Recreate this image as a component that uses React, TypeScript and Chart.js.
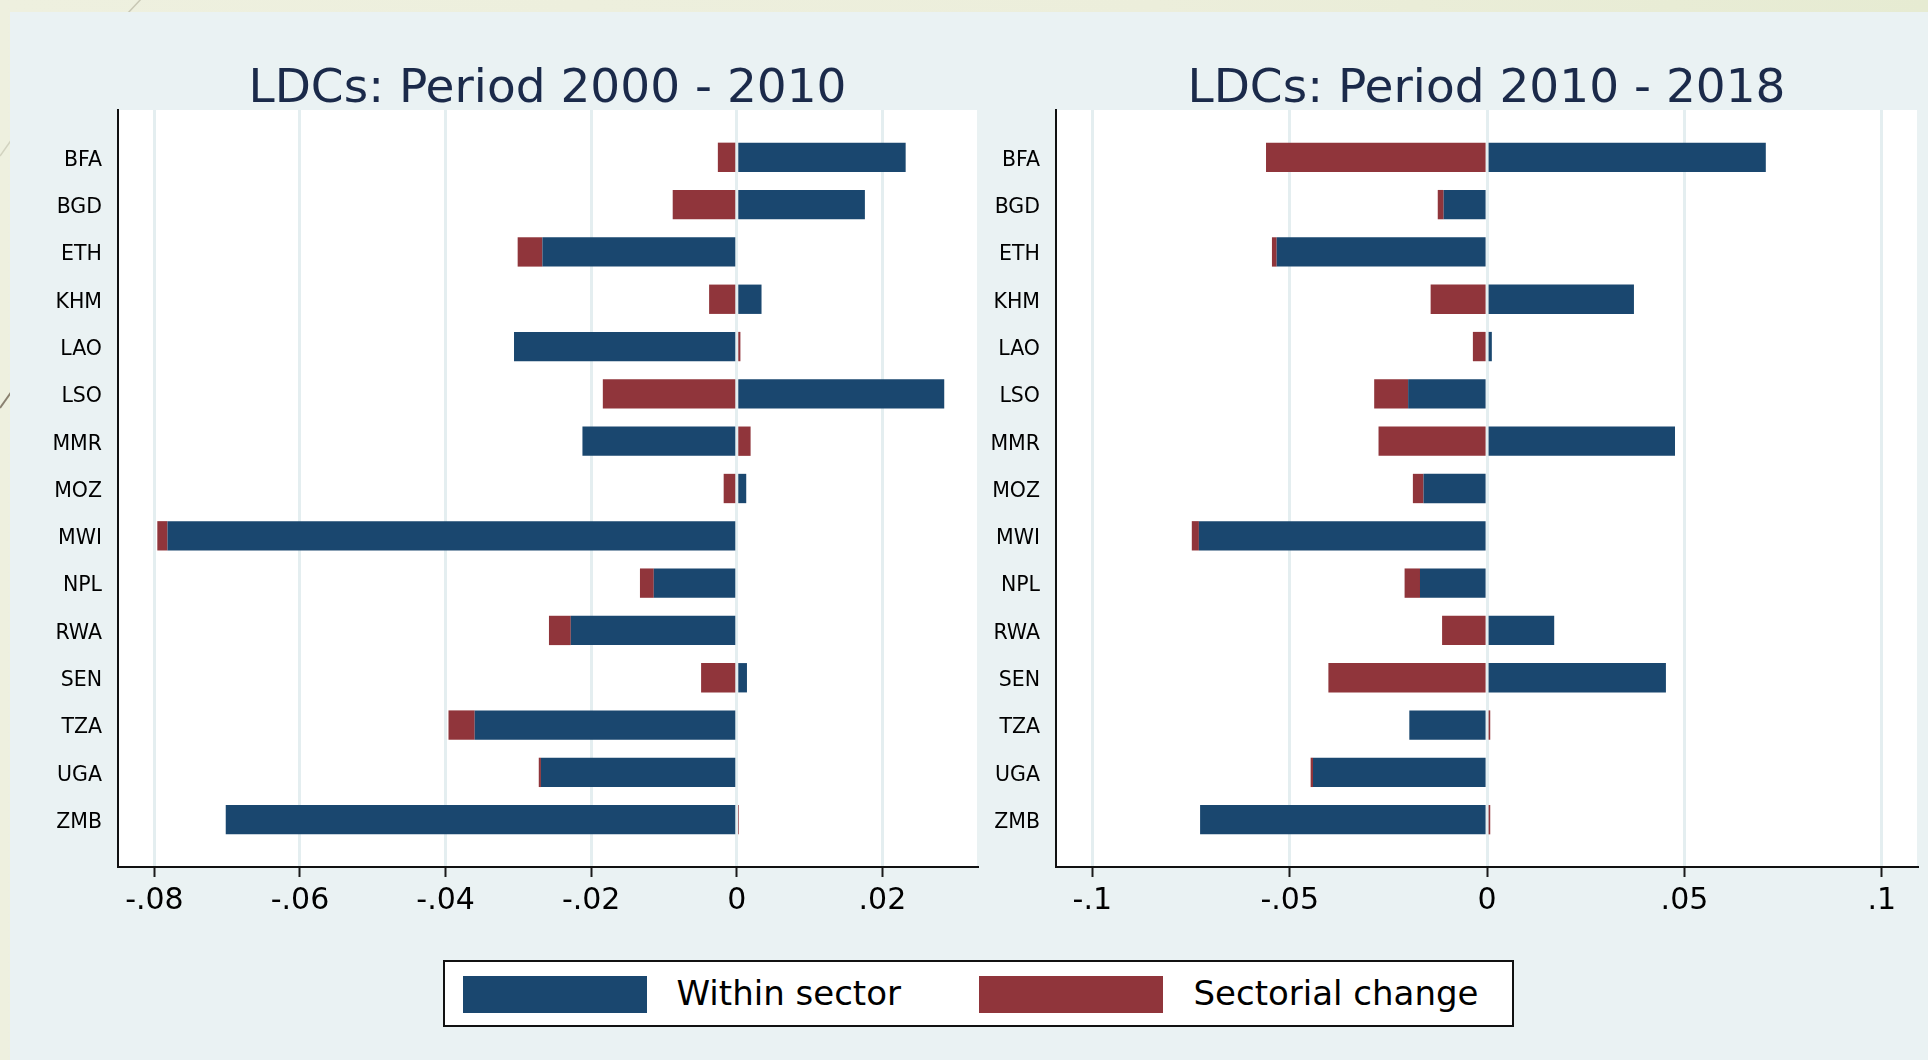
import React, { useEffect, useRef } from "react";
import { Chart, registerables } from "chart.js";

Chart.register(...registerables);

// ---------- data ----------
const categories = ["BFA", "BGD", "ETH", "KHM", "LAO", "LSO", "MMR", "MOZ", "MWI", "NPL", "RWA", "SEN", "TZA", "UGA", "ZMB"];

const within2000 = [0.0232, 0.0176, -0.0267, 0.0034, -0.0306, 0.0285, -0.0212, 0.0013, -0.0782, -0.0114, -0.0228, 0.0014, -0.036, -0.0269, -0.0702];
const sectoral2000 = [-0.0026, -0.0088, -0.0034, -0.0038, 0.0005, -0.0184, 0.0019, -0.0018, -0.0014, -0.0019, -0.003, -0.0049, -0.0036, -0.0003, 0.0003];

const within2010 = [0.0706, -0.011, -0.0533, 0.0372, 0.0012, -0.02, 0.0476, -0.0161, -0.073, -0.017, 0.017, 0.0453, -0.0197, -0.0441, -0.0727];
const sectoral2010 = [-0.056, -0.0015, -0.0012, -0.0143, -0.0036, -0.0086, -0.0275, -0.0027, -0.0018, -0.0039, -0.0114, -0.0402, 0.0008, -0.0006, 0.0008];

const ticks2000 = [-0.08, -0.06, -0.04, -0.02, 0, 0.02];
const tickLabels2000 = ["-.08", "-.06", "-.04", "-.02", "0", ".02"];
const ticks2010 = [-0.1, -0.05, 0, 0.05, 0.1];
const tickLabels2010 = ["-.1", "-.05", "0", ".05", ".1"];

const seriesNames = ["Within sector", "Sectorial change"];
const panelTitles = ["LDCs: Period 2000 - 2010", "LDCs: Period 2010 - 2018"];

// ---------- styles ----------
const BLUE = "#1a476f";
const RED = "#90353b";
const FONT = "DejaVu Sans";

Chart.defaults.font.family = FONT;

const whiteBg = {
  id: "whiteBg",
  beforeDraw(chart: any) {
    const a = chart.chartArea;
    const ctx = chart.ctx;
    ctx.save();
    ctx.fillStyle = "#ffffff";
    ctx.fillRect(a.left, a.top, a.right - a.left, a.bottom - a.top);
    ctx.restore();
  },
};

type PanelProps = {
  title: string;
  within: number[];
  sectoral: number[];
  ticks: number[];
  tickLabels: string[];
  xMin: number;
  xMax: number;
  yAxisWidth: number;
  padRight: number;
  left: number;
  width: number;
};

function Panel(p: PanelProps) {
  const ref = useRef<HTMLCanvasElement | null>(null);
  useEffect(() => {
    if (!ref.current) return;
    const labels = ["", ...categories, ""];
    const pad = (arr: number[]) => [null, ...arr, null];
    const chart = new Chart(ref.current, {
      type: "bar",
      data: {
        labels,
        datasets: [
          {
            label: seriesNames[0],
            data: pad(p.within) as any,
            backgroundColor: BLUE,
            borderWidth: 0,
            barPercentage: 0.62,
            categoryPercentage: 1,
          },
          {
            label: seriesNames[1],
            data: pad(p.sectoral) as any,
            backgroundColor: RED,
            borderWidth: 0,
            barPercentage: 0.62,
            categoryPercentage: 1,
          },
        ],
      },
      options: {
        indexAxis: "y",
        responsive: false,
        animation: false,
        layout: { padding: { left: 0, right: p.padRight, top: 0, bottom: 0 } },
        plugins: {
          legend: { display: false },
          tooltip: { enabled: false },
          title: {
            display: true,
            text: p.title,
            fullSize: false,
            color: "#1b2a4a",
            font: { family: FONT, size: 47, lineHeight: 0.8, weight: "normal" },
            padding: { top: 71, bottom: 1.4 },
          },
        },
        scales: {
          x: {
            type: "linear",
            min: p.xMin,
            max: p.xMax,
            stacked: true,
            afterBuildTicks: (s: any) => {
              s.ticks = p.ticks.map((v) => ({ value: v }));
            },
            afterFit: (s: any) => {
              s.height = 73;
            },
            ticks: {
              callback: (v: any) => {
                const i = p.ticks.indexOf(v);
                return i >= 0 ? p.tickLabels[i] : "";
              },
              color: "#000",
              font: { family: FONT, size: 30 },
              padding: 6,
              maxRotation: 0,
              autoSkip: false,
            },
            grid: {
              color: "#e4eef0",
              lineWidth: 3,
              tickColor: "#1a1a1a",
              tickWidth: 2,
              tickLength: 10,
              drawOnChartArea: true,
            },
            border: { display: true, color: "#111", width: 2 },
          },
          y: {
            type: "category",
            stacked: true,
            offset: false,
            afterFit: (s: any) => {
              s.width = p.yAxisWidth;
            },
            ticks: {
              color: "#000",
              font: { family: FONT, size: 20.5 },
              padding: 16,
              labelOffset: 3,
              autoSkip: false,
            },
            grid: { display: false, drawTicks: false },
            border: { display: true, color: "#111", width: 2 },
          },
        },
      } as any,
      plugins: [whiteBg],
    });
    return () => chart.destroy();
  }, []);
  return (
    <canvas
      ref={ref}
      width={p.width}
      height={940}
      style={{ position: "absolute", left: p.left, top: 0, width: p.width, height: 940 }}
    />
  );
}

export default function App() {
  const legendColors = [BLUE, RED];
  const swatchLeft = [18, 533.6];
  const textLeft = [231.5, 748.5];
  return (
    <div
      style={{
        position: "fixed",
        left: 0,
        top: 0,
        width: 1928,
        height: 1060,
        overflow: "hidden",
        background: "linear-gradient(90deg, #eef0df 0%, #eceedb 60%, #e6ebd2 100%)",
      }}
    >
      <svg width={1928} height={1060} style={{ position: "absolute", left: 0, top: 0 }}>
        <line x1={142} y1={-2} x2={112} y2={30} stroke="#c8c7b4" strokeWidth={1.5} />
        <line x1={0} y1={156} x2={12} y2={139} stroke="#d2d3c0" strokeWidth={1.5} />
        <line x1={0} y1={408} x2={12} y2={391} stroke="#8a8170" strokeWidth={2} />
      </svg>
      <div
        style={{
          position: "absolute",
          left: 10,
          top: 12,
          width: 1918,
          height: 1048,
          background: "#eaf2f3",
        }}
      />
      <Panel
        title={panelTitles[0]}
        within={within2000}
        sectoral={sectoral2000}
        ticks={ticks2000}
        tickLabels={tickLabels2000}
        xMin={-0.085}
        xMax={0.033}
        yAxisWidth={108}
        padRight={8}
        left={10}
        width={975}
      />
      <Panel
        title={panelTitles[1]}
        within={within2010}
        sectoral={sectoral2010}
        ticks={ticks2010}
        tickLabels={tickLabels2010}
        xMin={-0.1092}
        xMax={0.1089}
        yAxisWidth={71}
        padRight={11}
        left={985}
        width={943}
      />
      <div
        style={{
          position: "absolute",
          left: 443,
          top: 960,
          width: 1071,
          height: 67,
          boxSizing: "border-box",
          border: "2px solid #111",
          background: "#fff",
          fontFamily: FONT,
        }}
      >
        {seriesNames.map((name, i) => (
          <React.Fragment key={name}>
            <div
              style={{
                position: "absolute",
                left: swatchLeft[i],
                top: 14,
                width: 184,
                height: 37,
                background: legendColors[i],
              }}
            />
            <span
              style={{
                position: "absolute",
                left: textLeft[i],
                top: 14,
                fontSize: 34,
                lineHeight: "34px",
                color: "#000",
                whiteSpace: "nowrap",
              }}
            >
              {name}
            </span>
          </React.Fragment>
        ))}
      </div>
    </div>
  );
}
